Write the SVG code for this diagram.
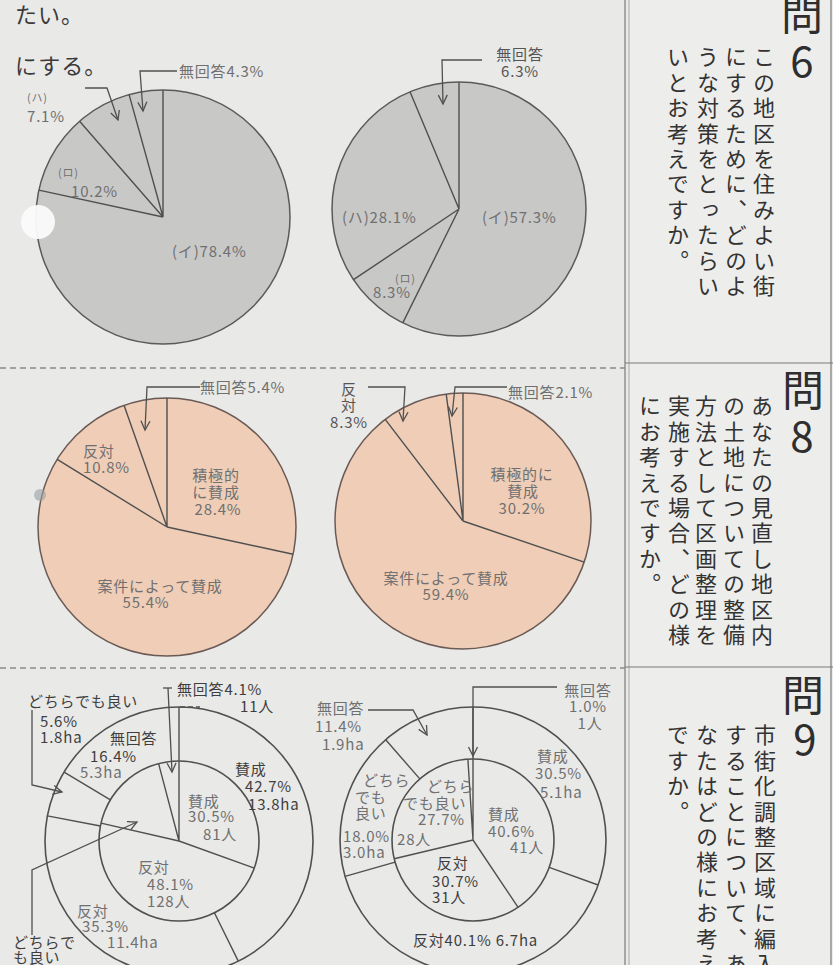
<svg xmlns="http://www.w3.org/2000/svg" width="833" height="965" viewBox="0 0 833 965">
<defs>
<style>
.bg{fill:#e9e9e8}
.pg{fill:#c8c8c7;stroke:#5a5a5a;stroke-width:1.5}
.pp{fill:#efcdb7;stroke:#6a5a55;stroke-width:1.5}
.ring{fill:none;stroke:#505050;stroke-width:1.6}
.dv{stroke:#505050;stroke-width:1.4;fill:none}
.ld{stroke:#505050;stroke-width:1.3;fill:none;marker-end:url(#ah)}
.ln{stroke:#505050;stroke-width:1.3;fill:none}
.dash{stroke:#8a8a8a;stroke-width:1.3;stroke-dasharray:6 4}
.frame{stroke:#7a7a7a;stroke-width:1.2}
.t{font-family:"Noto Sans CJK JP","Noto Sans",sans-serif;font-size:15px;fill:#707070;letter-spacing:0.8px}
.td{font-family:"Noto Sans CJK JP","Noto Sans",sans-serif;font-size:15px;fill:#3e3e3e;letter-spacing:0.8px}
.ts{font-size:11px}
.m{text-anchor:middle}
.big{font-family:"Noto Sans CJK JP","Noto Sans",sans-serif;font-size:22px;fill:#3a3a3a;letter-spacing:1px}
.q{font-family:"Noto Sans CJK JP","Noto Sans",sans-serif;font-size:42px;fill:#2e2e2e;text-anchor:middle}
.vt{font-family:"Noto Sans CJK JP",sans-serif;font-size:22px;fill:#333;writing-mode:vertical-rl;letter-spacing:3.4px}
</style>
<marker id="ah" viewBox="-10 -6 12 12" refX="0" refY="0" markerWidth="12" markerHeight="12" markerUnits="userSpaceOnUse" orient="auto">
<path d="M-9,-4.5 L0,0 L-9,4.5" fill="none" stroke="#505050" stroke-width="1.3"/>
</marker>
</defs>

<rect class="bg" x="0" y="0" width="833" height="965"/>
<rect x="628" y="0" width="205" height="965" fill="#ededec"/>

<!-- frames / separators -->
<g id="frames">
<line class="frame" x1="625" y1="0" x2="625" y2="965"/>
<line class="frame" x1="629" y1="0" x2="629" y2="965" stroke-opacity="0.5"/>
<line class="frame" x1="831" y1="0" x2="831" y2="965"/>
<line class="frame" x1="625" y1="363" x2="833" y2="363"/>
<line class="frame" x1="625" y1="667" x2="833" y2="667"/>
<line class="dash" x1="0" y1="368" x2="625" y2="368"/>
<line class="dash" x1="0" y1="668" x2="625" y2="668"/>
</g>

<!-- top fragment text -->
<text class="big" x="15" y="23">たい。</text>
<text class="big" x="15" y="74">にする。</text>

<!-- Q6 left pie -->
<g id="pie6a">
<circle class="pg" cx="163" cy="217" r="127"/>
<path class="dv" d="M163,217 L163,90 M163,217 L38.9,190.1 M163,217 L79.6,121.2 M163,217 L129.1,94.6"/>
<circle cx="38" cy="222" r="17" fill="#fbfbfb" opacity="0.95"/>
<text class="t" x="179" y="77">無回答4.3%</text>
<text class="t ts" x="27" y="102">(ハ)</text>
<text class="t" x="27" y="122">7.1%</text>
<text class="t ts" x="58" y="177">(ロ)</text>
<text class="t" x="71" y="197">10.2%</text>
<text class="t" x="172" y="257">(イ)78.4%</text>
</g>

<!-- Q6 right pie -->
<g id="pie6b">
<circle class="pg" cx="459" cy="209" r="127"/>
<path class="dv" d="M459,209 L459,82 M459,209 L402.8,322.9 M459,209 L353.5,279.7 M459,209 L410,91.8"/>
<text class="t m" x="520" y="60" style="fill:#555">無回答</text>
<text class="t m" x="520" y="77" style="fill:#555">6.3%</text>
<text class="t" x="342" y="223">(ハ)28.1%</text>
<text class="t" x="482" y="223">(イ)57.3%</text>
<text class="t ts" x="395" y="283">(ロ)</text>
<text class="t" x="373" y="298">8.3%</text>
</g>

<!-- Q8 left pie -->
<g id="pie8a">
<circle class="pp" cx="167" cy="527" r="129"/>
<path class="dv" d="M167,527 L167,398 M167,527 L293.1,554.3 M167,527 L57.2,459.3 M167,527 L124.1,405.4"/>
<circle cx="40" cy="495" r="6" fill="#9aa0a4" opacity="0.6"/>
<text class="t" x="200" y="393">無回答5.4%</text>
<text class="t" x="83" y="457">反対</text>
<text class="t" x="83" y="473">10.8%</text>
<text class="t m" x="216" y="481">積極的</text>
<text class="t m" x="216" y="498">に賛成</text>
<text class="t m" x="218" y="515">28.4%</text>
<text class="t m" x="160" y="592">案件によって賛成</text>
<text class="t m" x="146" y="608">55.4%</text>
</g>

<!-- Q8 right pie -->
<g id="pie8b">
<circle class="pp" cx="463" cy="521" r="128"/>
<path class="dv" d="M463,521 L463,393 M463,521 L584.2,562.1 M463,521 L385.2,419.4 M463,521 L446.2,394.1"/>
<text class="t m" x="349" y="395" style="fill:#555">反</text>
<text class="t m" x="349" y="411" style="fill:#555">対</text>
<text class="t m" x="349" y="428" style="fill:#555">8.3%</text>
<text class="t" x="508" y="398">無回答2.1%</text>
<text class="t m" x="522" y="480">積極的に</text>
<text class="t m" x="523" y="497">賛成</text>
<text class="t m" x="522" y="514">30.2%</text>
<text class="t m" x="446" y="584">案件によって賛成</text>
<text class="t m" x="446" y="600">59.4%</text>
</g>

<!-- Q9 left donut -->
<g id="donut9a">
<circle class="ring" cx="179" cy="841" r="134"/>
<circle class="ring" cx="179" cy="841" r="80"/>
<path class="dv" d="M179,841 L179,707 M214.4,912.7 L238.3,961.1 M100.4,826 L47.4,815.9 M110.4,799.8 L64.1,772.1 M179,841 L254.3,868.1 M179,841 L101,823.1 M179,841 L158.6,763.6"/>
<text class="td" x="28" y="707">どちらでも良い</text>
<text class="td" x="40" y="727">5.6%</text>
<text class="td" x="40" y="743">1.8ha</text>
<text class="td" x="110" y="744">無回答</text>
<text class="td" x="90" y="762">16.4%</text>
<text class="t" x="80" y="778">5.3ha</text>
<text class="td" x="177" y="695">無回答4.1%</text>
<text class="td" x="240" y="712">11人</text>
<text class="td" x="235" y="775">賛成</text>
<text class="td" x="245" y="792">42.7%</text>
<text class="td" x="248" y="810">13.8ha</text>
<text class="t" x="188" y="807">賛成</text>
<text class="t" x="188" y="822">30.5%</text>
<text class="t" x="203" y="840">81人</text>
<text class="t" x="138" y="873">反対</text>
<text class="t" x="147" y="890">48.1%</text>
<text class="t" x="147" y="907">128人</text>
<text class="t" x="77" y="917">反対</text>
<text class="t" x="82" y="932">35.3%</text>
<text class="t" x="107" y="948">11.4ha</text>
<text class="td" x="13" y="948">どちらで</text>
<text class="td" x="13" y="963">も良い</text>
<text class="td" x="13" y="979">17.3%</text>
</g>

<!-- Q9 right donut -->
<g id="donut9b">
<circle class="ring" cx="473" cy="840" r="133"/>
<circle class="ring" cx="473" cy="840" r="81"/>
<path class="dv" d="M473,840 L473,707 M549.2,867.4 L598.1,885 M395.1,862.1 L345.1,876.3 M419.8,778.9 L385.7,739.7 M473,840 L518.1,907.3 M473,840 L394.2,858.7 M473,840 L467.9,759.2"/>
<text class="t" x="317" y="714">無回答</text>
<text class="t" x="315" y="732">11.4%</text>
<text class="t" x="322" y="750">1.9ha</text>
<text class="t m" x="588" y="696">無回答</text>
<text class="t m" x="588" y="712">1.0%</text>
<text class="t m" x="590" y="729">1人</text>
<text class="t" x="537" y="762">賛成</text>
<text class="t" x="535" y="779">30.5%</text>
<text class="t" x="540" y="798">5.1ha</text>
<text class="t" x="363" y="786">どちら</text>
<text class="t" x="355" y="803">でも</text>
<text class="t" x="355" y="819">良い</text>
<text class="t" x="343" y="842">18.0%</text>
<text class="t" x="343" y="858">3.0ha</text>
<text class="t" x="427" y="792">どちら</text>
<text class="t" x="403" y="809">でも良い</text>
<text class="t" x="418" y="825">27.7%</text>
<text class="t" x="397" y="845">28人</text>
<text class="t" x="488" y="820">賛成</text>
<text class="t" x="488" y="837">40.6%</text>
<text class="t" x="510" y="853">41人</text>
<text class="td" x="437" y="869">反対</text>
<text class="td" x="432" y="887">30.7%</text>
<text class="td" x="432" y="903">31人</text>
<text class="td" x="413" y="946">反対40.1% 6.7ha</text>
</g>

<!-- leaders -->
<g id="connectors">
<path class="ld" d="M177,71 H140 L143,111"/>
<path class="ld" d="M85,88 H107 L118,120"/>
<path class="ld" d="M482,60 H442 L443,104"/>
<path class="ld" d="M200,387 H147 L145,430"/>
<path class="ld" d="M368,387 H405 L403,421"/>
<path class="ld" d="M507,387 H455 L452,416"/>
<path class="ld" d="M32,710 V785 L62,792"/>
<path class="ld" d="M32,935 V870 L137,822"/>
<path class="ln" d="M163,688 H172"/>
<path class="ld" d="M168,688 L172,772"/>
<path class="ln" d="M180,707 H200" stroke-dasharray="5 3"/>
<path class="ld" d="M368,710 H413 L427,735"/>
<path class="ln" d="M557,687 H473 V707"/>
<path class="ld" d="M473,707 V756"/>
</g>

<!-- Question panels -->
<g id="q6">
<text class="q" x="802" y="30">問</text>
<text class="q" x="802" y="77">6</text>
<text class="vt" x="764" y="46">この地区を住みよい街</text>
<text class="vt" x="736" y="46">にするために、どのよ</text>
<text class="vt" x="708" y="46">うな対策をとったらい</text>
<text class="vt" x="678" y="46">いとお考えですか。</text>
</g>
<g id="q8">
<text class="q" x="803" y="406">問</text>
<text class="q" x="802" y="452">8</text>
<text class="vt" x="762" y="395">あなたの見直し地区内</text>
<text class="vt" x="734" y="395">の土地についての整備</text>
<text class="vt" x="706" y="395">方法として区画整理を</text>
<text class="vt" x="679" y="395">実施する場合、どの様</text>
<text class="vt" x="650" y="395">にお考えですか。</text>
</g>
<g id="q9">
<text class="q" x="803" y="711">問</text>
<text class="q" x="805" y="755">9</text>
<text class="vt" x="765" y="724">市街化調整区域に編入</text>
<text class="vt" x="736" y="724">することについて、あ</text>
<text class="vt" x="707" y="724">なたはどの様にお考え</text>
<text class="vt" x="678" y="724">ですか。</text>
</g>
</svg>
